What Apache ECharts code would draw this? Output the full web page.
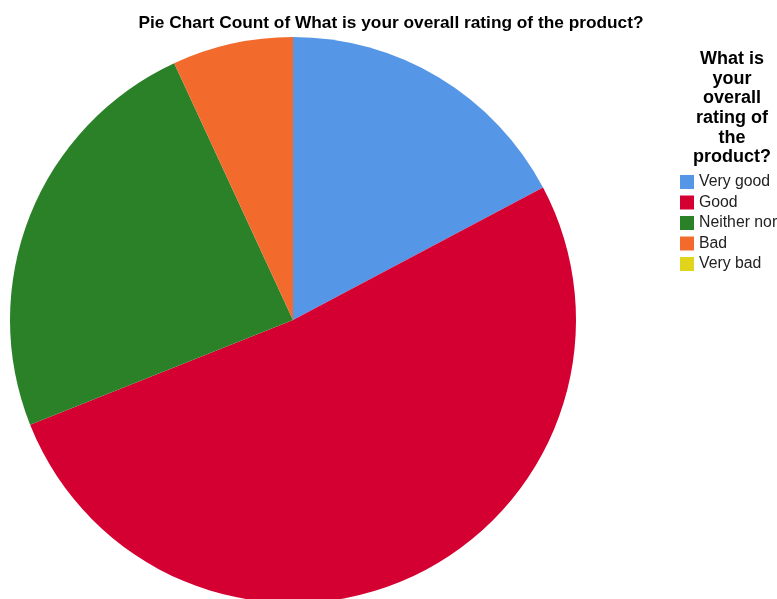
<!DOCTYPE html>
<html>
<head>
<meta charset="utf-8">
<script src="https://cdn.jsdelivr.net/npm/echarts@6/dist/echarts.min.js"></script>
<style>
html, body { margin: 0; padding: 0; background: #fff; }
#main { width: 777px; height: 599px; }
</style>
</head>
<body>
<div id="main"></div>
<script>
// categories and counts
var ratingNames = ['Very good', 'Good', 'Neither nor', 'Bad', 'Very bad'];
var ratingCounts = [5, 15, 7, 2, 0];
var ratingColors = ['#5596e6', '#d50032', '#2a8128', '#f26a2c', '#e0d51a'];

var pieData = [];
for (var i = 0; i < ratingNames.length; i++) {
	pieData.push({
		name: ratingNames[i],
		value: ratingCounts[i],
		itemStyle: { color: ratingColors[i] }
	});
}

var myChart = echarts.init(document.getElementById('main'));
var option = {
	animation: false,
	title: [{
		text: 'Pie Chart Count of What is your overall rating of the product?',
		left: 386,
		textAlign: 'center',
		top: 10,
		textStyle: {
			fontFamily: 'Liberation Sans, Arial, sans-serif',
			fontSize: 17.3,
			fontWeight: 'bold',
			color: '#000'
		}
	}, {
		text: 'What is\nyour\noverall\nrating of\nthe\nproduct?',
		left: 727,
		textAlign: 'center',
		top: 44,
		textStyle: {
			fontFamily: 'Liberation Sans, Arial, sans-serif',
			fontSize: 18,
			fontWeight: 'bold',
			lineHeight: 19.7,
			color: '#000'
		}
	}],
	legend: {
		orient: 'vertical',
		left: 680,
		top: 174,
		padding: 0,
		icon: 'rect',
		itemWidth: 14,
		itemHeight: 14,
		itemGap: 4.5,
		data: ratingNames,
		textStyle: {
			fontFamily: 'Liberation Sans, Arial, sans-serif',
			fontSize: 15.8,
			color: '#222'
		}
	},
	series: [{
		type: 'pie',
		center: [293, 320],
		radius: 283,
		startAngle: 90,
		clockwise: true,
		label: { show: false },
		labelLine: { show: false },
		emphasis: { disabled: true },
		data: pieData
	}]
};
myChart.setOption(option);
</script>
</body>
</html>
